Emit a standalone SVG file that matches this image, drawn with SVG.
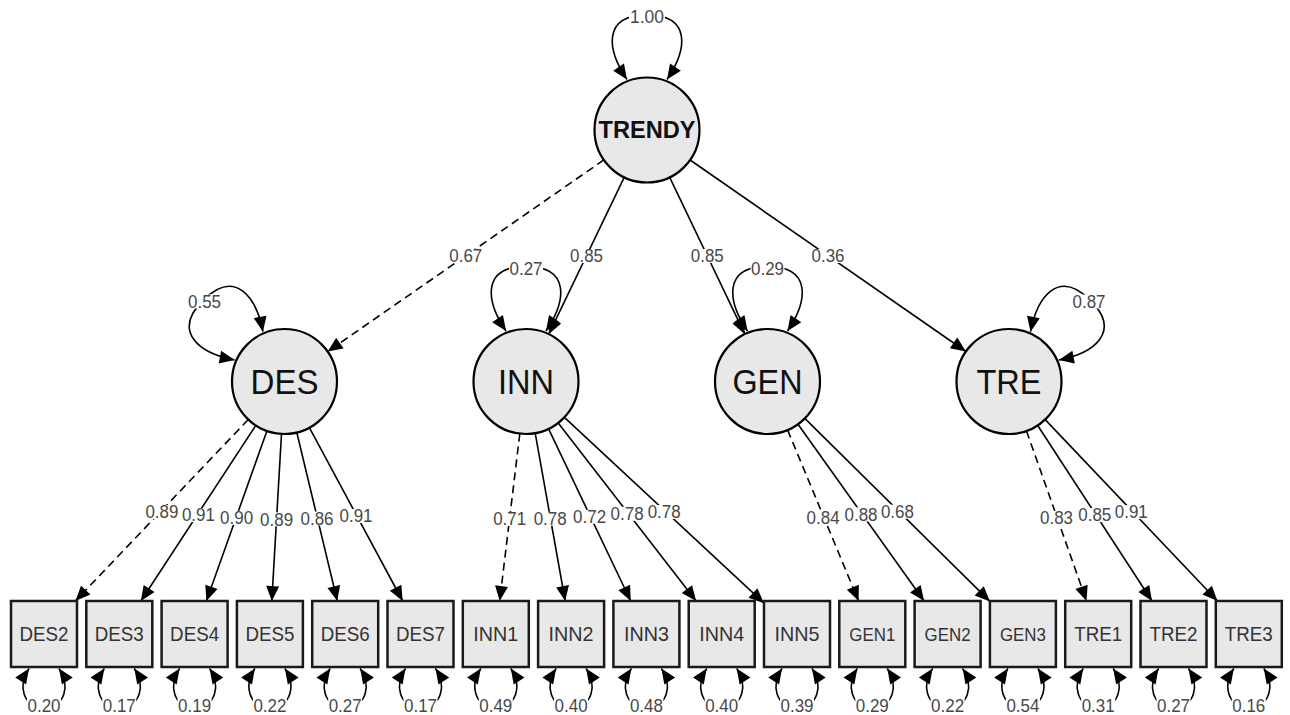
<svg xmlns="http://www.w3.org/2000/svg" width="1290" height="715" viewBox="0 0 1290 715">
<defs>
<marker id="ah" markerUnits="userSpaceOnUse" markerWidth="16" markerHeight="14" refX="15" refY="6.5" orient="auto-start-reverse" overflow="visible"><path d="M0,0 L15,6.5 L0,13 z" fill="#000"/></marker>
</defs>
<style>
.edge{fill:none;stroke:#000;stroke-width:1.6;marker-end:url(#ah)}
.dash{stroke-dasharray:8 5}
.loop{fill:none;stroke:#000;stroke-width:1.6;marker-start:url(#ah);marker-end:url(#ah)}
.lat circle{fill:#e8e8e8;stroke:#000;stroke-width:2.2}
.obs rect{fill:#e8e8e8;stroke:#1a1a1a;stroke-width:2.5}
.lat text{font-family:"Liberation Sans",Arial,sans-serif;font-size:35px;fill:#111;text-anchor:middle}
.obs text{font-family:"Liberation Sans",Arial,sans-serif;font-size:20px;fill:#333;text-anchor:middle}
.lbl rect{fill:#fff}
.lbl text{font-family:"Liberation Sans",Arial,sans-serif;font-size:18px;fill:#484848;text-anchor:middle}
</style>
<rect width="1290" height="715" fill="#fff"/>

<!-- connectors: loadings, variance loops and their values -->
<g id="connectors">
  <!-- second-order loadings -->
  <path class="edge dash" d="M603.9,159.9 L327.6,351.6"/>
  <path class="edge" d="M624.2,177.3 L548.8,334.2"/>
  <path class="edge" d="M669.7,177.3 L744.8,334.2"/>
  <path class="edge" d="M690.1,160 L965.9,351.5"/>
  <!-- DES indicators -->
  <path class="edge dash" d="M248.3,419.5 L75.4,601"/>
  <path class="edge" d="M255.8,425.4 L140.9,601"/>
  <path class="edge" d="M266.9,431 L206.4,601"/>
  <path class="edge" d="M281.5,433.9 L271.8,601"/>
  <path class="edge" d="M296.8,432.5 L337.3,601"/>
  <path class="edge" d="M309.4,427.7 L402.7,601"/>
  <!-- INN indicators -->
  <path class="edge dash" d="M519.8,433.6 L499.7,601"/>
  <path class="edge" d="M535.2,433.2 L565.2,601"/>
  <path class="edge" d="M548.6,428.9 L630.7,601"/>
  <path class="edge" d="M558.2,423 L696.1,601"/>
  <path class="edge" d="M564.4,417.3 L764,603.2"/>
  <!-- GEN indicators -->
  <path class="edge dash" d="M787.6,430 L858.6,601"/>
  <path class="edge" d="M798,424.2 L924.1,601"/>
  <path class="edge" d="M804.8,418.4 L989.9,601.4"/>
  <!-- TRE indicators -->
  <path class="edge dash" d="M1026.5,431 L1086.5,601"/>
  <path class="edge" d="M1037.7,425.5 L1152,601"/>
  <path class="edge" d="M1045.2,419.6 L1217.5,601"/>

  <!-- latent variance loops -->
  <path class="loop" transform="translate(647,130)" d="M-20,-50.5 C-40,-80 -45,-115 0,-115 C45,-115 40,-80 20,-50.5"/>
  <path class="loop" transform="translate(284.5,381.5) rotate(-45)" d="M-20,-50.5 C-40,-80 -45,-115 0,-115 C45,-115 40,-80 20,-50.5"/>
  <path class="loop" transform="translate(526,381.5)" d="M-20,-50.5 C-40,-80 -45,-115 0,-115 C45,-115 40,-80 20,-50.5"/>
  <path class="loop" transform="translate(767.5,381.5)" d="M-20,-50.5 C-40,-80 -45,-115 0,-115 C45,-115 40,-80 20,-50.5"/>
  <path class="loop" transform="translate(1009,381.5) rotate(45)" d="M-20,-50.5 C-40,-80 -45,-115 0,-115 C45,-115 40,-80 20,-50.5"/>

  <!-- residual loops under the indicators -->
  <path class="loop" transform="translate(44,667)" d="M-15,1.5 C-26,18 -22,40 0,40 C22,40 26,18 15,1.5"/>
  <path class="loop" transform="translate(119.3,667)" d="M-15,1.5 C-26,18 -22,40 0,40 C22,40 26,18 15,1.5"/>
  <path class="loop" transform="translate(194.6,667)" d="M-15,1.5 C-26,18 -22,40 0,40 C22,40 26,18 15,1.5"/>
  <path class="loop" transform="translate(269.9,667)" d="M-15,1.5 C-26,18 -22,40 0,40 C22,40 26,18 15,1.5"/>
  <path class="loop" transform="translate(345.2,667)" d="M-15,1.5 C-26,18 -22,40 0,40 C22,40 26,18 15,1.5"/>
  <path class="loop" transform="translate(420.5,667)" d="M-15,1.5 C-26,18 -22,40 0,40 C22,40 26,18 15,1.5"/>
  <path class="loop" transform="translate(495.8,667)" d="M-15,1.5 C-26,18 -22,40 0,40 C22,40 26,18 15,1.5"/>
  <path class="loop" transform="translate(571.1,667)" d="M-15,1.5 C-26,18 -22,40 0,40 C22,40 26,18 15,1.5"/>
  <path class="loop" transform="translate(646.4,667)" d="M-15,1.5 C-26,18 -22,40 0,40 C22,40 26,18 15,1.5"/>
  <path class="loop" transform="translate(721.7,667)" d="M-15,1.5 C-26,18 -22,40 0,40 C22,40 26,18 15,1.5"/>
  <path class="loop" transform="translate(797,667)" d="M-15,1.5 C-26,18 -22,40 0,40 C22,40 26,18 15,1.5"/>
  <path class="loop" transform="translate(872.3,667)" d="M-15,1.5 C-26,18 -22,40 0,40 C22,40 26,18 15,1.5"/>
  <path class="loop" transform="translate(947.6,667)" d="M-15,1.5 C-26,18 -22,40 0,40 C22,40 26,18 15,1.5"/>
  <path class="loop" transform="translate(1022.9,667)" d="M-15,1.5 C-26,18 -22,40 0,40 C22,40 26,18 15,1.5"/>
  <path class="loop" transform="translate(1098.2,667)" d="M-15,1.5 C-26,18 -22,40 0,40 C22,40 26,18 15,1.5"/>
  <path class="loop" transform="translate(1173.5,667)" d="M-15,1.5 C-26,18 -22,40 0,40 C22,40 26,18 15,1.5"/>
  <path class="loop" transform="translate(1248.8,667)" d="M-15,1.5 C-26,18 -22,40 0,40 C22,40 26,18 15,1.5"/>

  <!-- edge values -->
  <g class="lbl">
    <rect x="448.75" y="249" width="34" height="14"/><text x="465.75" y="262.2" textLength="33" lengthAdjust="spacingAndGlyphs">0.67</text>
    <rect x="569.5" y="249" width="34" height="14"/><text x="586.5" y="262.2" textLength="33" lengthAdjust="spacingAndGlyphs">0.85</text>
    <rect x="690.25" y="249" width="34" height="14"/><text x="707.25" y="262.2" textLength="33" lengthAdjust="spacingAndGlyphs">0.85</text>
    <rect x="811" y="249" width="34" height="14"/><text x="828" y="262.2" textLength="33" lengthAdjust="spacingAndGlyphs">0.36</text>

    <rect x="144.9" y="505" width="34" height="14"/><text x="161.9" y="518.2" textLength="33" lengthAdjust="spacingAndGlyphs">0.89</text>
    <rect x="181.4" y="508" width="34" height="14"/><text x="198.4" y="521.2" textLength="33" lengthAdjust="spacingAndGlyphs">0.91</text>
    <rect x="219.6" y="510.8" width="34" height="14"/><text x="236.6" y="524" textLength="33" lengthAdjust="spacingAndGlyphs">0.90</text>
    <rect x="259.6" y="512.3" width="34" height="14"/><text x="276.6" y="525.5" textLength="33" lengthAdjust="spacingAndGlyphs">0.89</text>
    <rect x="300" y="511.5" width="34" height="14"/><text x="317" y="524.7" textLength="33" lengthAdjust="spacingAndGlyphs">0.86</text>
    <rect x="339" y="509" width="34" height="14"/><text x="356" y="522.2" textLength="33" lengthAdjust="spacingAndGlyphs">0.91</text>

    <rect x="492.7" y="512" width="34" height="14"/><text x="509.7" y="525.2" textLength="33" lengthAdjust="spacingAndGlyphs">0.71</text>
    <rect x="533.2" y="511.8" width="34" height="14"/><text x="550.2" y="525" textLength="33" lengthAdjust="spacingAndGlyphs">0.78</text>
    <rect x="572.6" y="509.8" width="34" height="14"/><text x="589.6" y="523" textLength="33" lengthAdjust="spacingAndGlyphs">0.72</text>
    <rect x="610.1" y="506.8" width="34" height="14"/><text x="627.1" y="520" textLength="33" lengthAdjust="spacingAndGlyphs">0.78</text>
    <rect x="647.2" y="505" width="34" height="14"/><text x="664.2" y="518.2" textLength="33" lengthAdjust="spacingAndGlyphs">0.78</text>

    <rect x="806.1" y="510.3" width="34" height="14"/><text x="823.1" y="523.5" textLength="33" lengthAdjust="spacingAndGlyphs">0.84</text>
    <rect x="844" y="507.4" width="34" height="14"/><text x="861" y="520.6" textLength="33" lengthAdjust="spacingAndGlyphs">0.88</text>
    <rect x="880.4" y="504.7" width="34" height="14"/><text x="897.4" y="517.9" textLength="33" lengthAdjust="spacingAndGlyphs">0.68</text>

    <rect x="1039.5" y="510.8" width="34" height="14"/><text x="1056.5" y="524" textLength="33" lengthAdjust="spacingAndGlyphs">0.83</text>
    <rect x="1077.8" y="508.1" width="34" height="14"/><text x="1094.8" y="521.3" textLength="33" lengthAdjust="spacingAndGlyphs">0.85</text>
    <rect x="1114.3" y="505.1" width="34" height="14"/><text x="1131.3" y="518.3" textLength="33" lengthAdjust="spacingAndGlyphs">0.91</text>

    <!-- latent variances -->
    <rect x="629" y="9.5" width="36" height="14"/><text x="647" y="22.7" textLength="34" lengthAdjust="spacingAndGlyphs">1.00</text>
    <rect x="187.5" y="294.5" width="34" height="14"/><text x="204.5" y="307.7" textLength="33" lengthAdjust="spacingAndGlyphs">0.55</text>
    <rect x="509" y="261.5" width="34" height="14"/><text x="526" y="274.7" textLength="33" lengthAdjust="spacingAndGlyphs">0.27</text>
    <rect x="750.5" y="261.5" width="34" height="14"/><text x="767.5" y="274.7" textLength="33" lengthAdjust="spacingAndGlyphs">0.29</text>
    <rect x="1072" y="294.5" width="34" height="14"/><text x="1089" y="307.7" textLength="33" lengthAdjust="spacingAndGlyphs">0.87</text>

    <!-- residual variances -->
    <rect x="27" y="698" width="34" height="15"/><text x="44" y="711.5" textLength="33" lengthAdjust="spacingAndGlyphs">0.20</text>
    <rect x="102.3" y="698" width="34" height="15"/><text x="119.3" y="711.5" textLength="33" lengthAdjust="spacingAndGlyphs">0.17</text>
    <rect x="177.6" y="698" width="34" height="15"/><text x="194.6" y="711.5" textLength="33" lengthAdjust="spacingAndGlyphs">0.19</text>
    <rect x="252.9" y="698" width="34" height="15"/><text x="269.9" y="711.5" textLength="33" lengthAdjust="spacingAndGlyphs">0.22</text>
    <rect x="328.2" y="698" width="34" height="15"/><text x="345.2" y="711.5" textLength="33" lengthAdjust="spacingAndGlyphs">0.27</text>
    <rect x="403.5" y="698" width="34" height="15"/><text x="420.5" y="711.5" textLength="33" lengthAdjust="spacingAndGlyphs">0.17</text>
    <rect x="478.8" y="698" width="34" height="15"/><text x="495.8" y="711.5" textLength="33" lengthAdjust="spacingAndGlyphs">0.49</text>
    <rect x="554.1" y="698" width="34" height="15"/><text x="571.1" y="711.5" textLength="33" lengthAdjust="spacingAndGlyphs">0.40</text>
    <rect x="629.4" y="698" width="34" height="15"/><text x="646.4" y="711.5" textLength="33" lengthAdjust="spacingAndGlyphs">0.48</text>
    <rect x="704.7" y="698" width="34" height="15"/><text x="721.7" y="711.5" textLength="33" lengthAdjust="spacingAndGlyphs">0.40</text>
    <rect x="780" y="698" width="34" height="15"/><text x="797" y="711.5" textLength="33" lengthAdjust="spacingAndGlyphs">0.39</text>
    <rect x="855.3" y="698" width="34" height="15"/><text x="872.3" y="711.5" textLength="33" lengthAdjust="spacingAndGlyphs">0.29</text>
    <rect x="930.6" y="698" width="34" height="15"/><text x="947.6" y="711.5" textLength="33" lengthAdjust="spacingAndGlyphs">0.22</text>
    <rect x="1005.9" y="698" width="34" height="15"/><text x="1022.9" y="711.5" textLength="33" lengthAdjust="spacingAndGlyphs">0.54</text>
    <rect x="1081.2" y="698" width="34" height="15"/><text x="1098.2" y="711.5" textLength="33" lengthAdjust="spacingAndGlyphs">0.31</text>
    <rect x="1156.5" y="698" width="34" height="15"/><text x="1173.5" y="711.5" textLength="33" lengthAdjust="spacingAndGlyphs">0.27</text>
    <rect x="1231.8" y="698" width="34" height="15"/><text x="1248.8" y="711.5" textLength="33" lengthAdjust="spacingAndGlyphs">0.16</text>
  </g>
</g>

<!-- latent factors -->
<g id="TRENDY" class="lat"><circle cx="647" cy="130" r="52.5"/><text x="647" y="138" style="font-size:23px;font-weight:bold" textLength="97" lengthAdjust="spacingAndGlyphs">TRENDY</text></g>
<g id="DES" class="lat"><circle cx="284.5" cy="381.5" r="52.5"/><text x="284.5" y="394" textLength="68" lengthAdjust="spacingAndGlyphs">DES</text></g>
<g id="INN" class="lat"><circle cx="526" cy="381.5" r="52.5"/><text x="526" y="394" textLength="56" lengthAdjust="spacingAndGlyphs">INN</text></g>
<g id="GEN" class="lat"><circle cx="767.5" cy="381.5" r="52.5"/><text x="767.5" y="394" textLength="70" lengthAdjust="spacingAndGlyphs">GEN</text></g>
<g id="TRE" class="lat"><circle cx="1009" cy="381.5" r="52.5"/><text x="1009" y="394" textLength="65" lengthAdjust="spacingAndGlyphs">TRE</text></g>

<!-- indicators -->
<g id="DES2" class="obs"><rect x="11" y="601" width="66" height="66"/><text x="44" y="641.2" textLength="49" lengthAdjust="spacingAndGlyphs">DES2</text></g>
<g id="DES3" class="obs"><rect x="86.3" y="601" width="66" height="66"/><text x="119.3" y="641.2" textLength="49" lengthAdjust="spacingAndGlyphs">DES3</text></g>
<g id="DES4" class="obs"><rect x="161.6" y="601" width="66" height="66"/><text x="194.6" y="641.2" textLength="49" lengthAdjust="spacingAndGlyphs">DES4</text></g>
<g id="DES5" class="obs"><rect x="236.9" y="601" width="66" height="66"/><text x="269.9" y="641.2" textLength="49" lengthAdjust="spacingAndGlyphs">DES5</text></g>
<g id="DES6" class="obs"><rect x="312.2" y="601" width="66" height="66"/><text x="345.2" y="641.2" textLength="49" lengthAdjust="spacingAndGlyphs">DES6</text></g>
<g id="DES7" class="obs"><rect x="387.5" y="601" width="66" height="66"/><text x="420.5" y="641.2" textLength="49" lengthAdjust="spacingAndGlyphs">DES7</text></g>
<g id="INN1" class="obs"><rect x="462.8" y="601" width="66" height="66"/><text x="495.8" y="641.2" style="font-size:21px" textLength="45" lengthAdjust="spacingAndGlyphs">INN1</text></g>
<g id="INN2" class="obs"><rect x="538.1" y="601" width="66" height="66"/><text x="571.1" y="641.2" style="font-size:21px" textLength="45" lengthAdjust="spacingAndGlyphs">INN2</text></g>
<g id="INN3" class="obs"><rect x="613.4" y="601" width="66" height="66"/><text x="646.4" y="641.2" style="font-size:21px" textLength="45" lengthAdjust="spacingAndGlyphs">INN3</text></g>
<g id="INN4" class="obs"><rect x="688.7" y="601" width="66" height="66"/><text x="721.7" y="641.2" style="font-size:21px" textLength="45" lengthAdjust="spacingAndGlyphs">INN4</text></g>
<g id="INN5" class="obs"><rect x="764" y="601" width="66" height="66"/><text x="797" y="641.2" style="font-size:21px" textLength="45" lengthAdjust="spacingAndGlyphs">INN5</text></g>
<g id="GEN1" class="obs"><rect x="839.3" y="601" width="66" height="66"/><text x="872.3" y="640.5" style="font-size:18px" textLength="46" lengthAdjust="spacingAndGlyphs">GEN1</text></g>
<g id="GEN2" class="obs"><rect x="914.6" y="601" width="66" height="66"/><text x="947.6" y="640.5" style="font-size:18px" textLength="46" lengthAdjust="spacingAndGlyphs">GEN2</text></g>
<g id="GEN3" class="obs"><rect x="989.9" y="601" width="66" height="66"/><text x="1022.9" y="640.5" style="font-size:18px" textLength="46" lengthAdjust="spacingAndGlyphs">GEN3</text></g>
<g id="TRE1" class="obs"><rect x="1065.2" y="601" width="66" height="66"/><text x="1098.2" y="641.2" textLength="48" lengthAdjust="spacingAndGlyphs">TRE1</text></g>
<g id="TRE2" class="obs"><rect x="1140.5" y="601" width="66" height="66"/><text x="1173.5" y="641.2" textLength="48" lengthAdjust="spacingAndGlyphs">TRE2</text></g>
<g id="TRE3" class="obs"><rect x="1215.8" y="601" width="66" height="66"/><text x="1248.8" y="641.2" textLength="48" lengthAdjust="spacingAndGlyphs">TRE3</text></g>
</svg>
